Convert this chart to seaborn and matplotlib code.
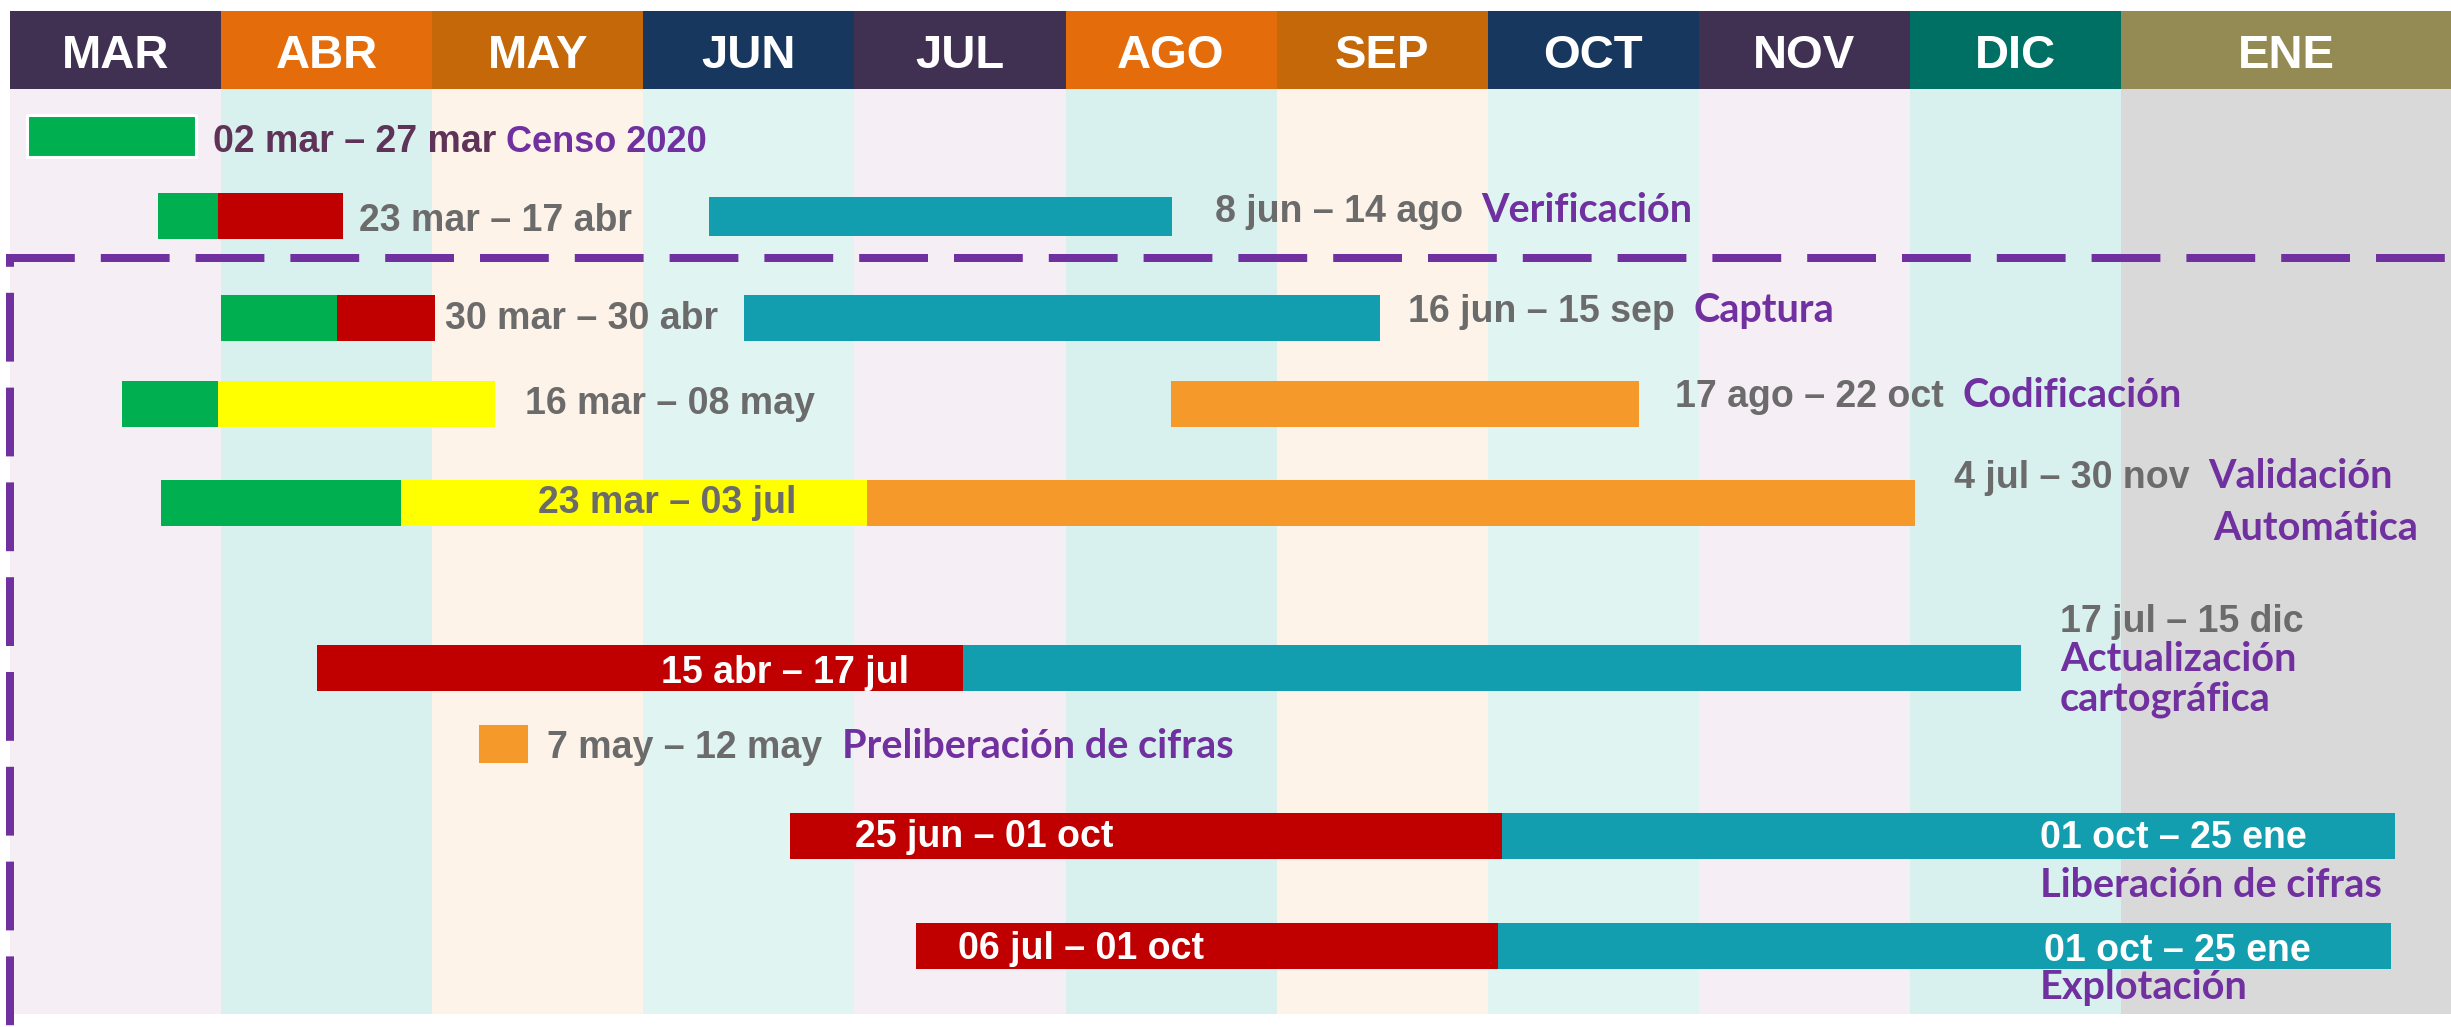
import matplotlib
matplotlib.use("Agg")
import matplotlib.pyplot as plt
import seaborn as sns

# ---------------- data ----------------
meses = ["MAR", "ABR", "MAY", "JUN", "JUL", "AGO", "SEP", "OCT", "NOV", "DIC", "ENE"]

# bar segments per row, in months counted from 1 march
seg_fila = [0, 1, 1, 1, 2, 2, 2, 3, 3, 3, 4, 4, 4, 5, 5, 6, 7, 7, 8, 8]
seg_inicio = [0.08, 0.70, 0.985, 3.31, 1.00, 1.55, 3.475, 0.53, 0.985, 5.50,
              0.715, 1.85, 4.06, 1.455, 4.515, 2.22, 3.695, 7.07, 4.29, 7.05]
seg_fin = [0.88, 0.985, 1.577, 5.505, 1.55, 2.014, 6.49, 0.985, 2.297, 7.717,
           1.85, 4.06, 9.024, 4.515, 9.526, 2.453, 7.07, 11.30, 7.05, 11.28]
seg_tipo = ["g", "g", "r", "t", "g", "r", "t", "g", "y", "o",
            "g", "y", "o", "r", "t", "o", "r", "t", "r", "t"]

fechas = ["02 mar – 27 mar", "23 mar – 17 abr", "8 jun – 14 ago", "30 mar – 30 abr",
          "16 jun – 15 sep", "16 mar – 08 may", "17 ago – 22 oct", "23 mar – 03 jul",
          "4 jul – 30 nov", "15 abr – 17 jul", "17 jul – 15 dic", "7 may – 12 may",
          "25 jun – 01 oct", "01 oct – 25 ene", "06 jul – 01 oct", "01 oct – 25 ene"]
etapas = ["Censo 2020", "Verificación", "Captura", "Codificación", "Validación",
          "Automática", "Actualización", "cartográfica", "Preliberación de cifras",
          "Liberación de cifras", "Explotación"]

# ---------------- layout / style ----------------
W, H = 2451, 1027
X0, MW = 10, 211.1          # pixel of 1 march, pixels per month
def px(x):
    return (x - X0) / MW

fila_y = [136, 216, 318, 404, 503, 668, 744, 836, 946]
alto = [42, 46, 46, 46, 46, 46, 38, 46, 46]

col_barra = {"g": "#00B050", "r": "#C00000", "t": "#129EAF", "y": "#FFFF00", "o": "#F5992A"}
col_head = ["#403152", "#E46C0A", "#C4680A", "#17375E", "#403152", "#E46C0A",
            "#C4680A", "#17375E", "#403152", "#007064", "#948A54"]
col_body = ["#F5EEF4", "#D9F1EE", "#FDF3E8", "#E0F4F2", "#F5EEF4", "#D9F1EE",
            "#FDF3E8", "#E0F4F2", "#F5EEF4", "#D9F1EE", "#D9D9D9"]
GRIS, PURP, BLANCO, CIRUELA = "#6B6B6B", "#7030A0", "white", "#5F3257"

# (x px, baseline px, colour) for each date text
fechas_pos = [(213, 152, CIRUELA), (359, 231, GRIS), (1215, 222, GRIS), (445, 329, GRIS),
              (1408, 322, GRIS), (525, 414, GRIS), (1675, 407, GRIS), (538, 513, GRIS),
              (1954, 488, GRIS), (661, 683, BLANCO), (2060, 632, GRIS), (547, 758, GRIS),
              (855, 847, BLANCO), (2040, 848, BLANCO), (958, 959, BLANCO), (2044, 961, BLANCO)]
etapas_pos = [(506, 152), (1481, 222), (1693, 322), (1962, 407), (2208, 488), (2213, 540),
              (2060, 671), (2060, 711), (842, 758), (2040, 897), (2040, 999)]

sns.set_theme(style="white")
plt.rcParams["font.family"] = ["Liberation Sans", "DejaVu Sans"]

fig = plt.figure(figsize=(W / 100, H / 100), dpi=100)
ax = fig.add_axes([0, 0, 1, 1])
ax.set_xlim(px(0), px(W))
ax.set_ylim(H, 0)
ax.axis("off")

n = len(meses)
anchos = [1] * (n - 1) + [2]
lefts = list(range(n))

# month columns and header
ax.bar(lefts, [1014 - 89] * n, bottom=89, width=anchos, align="edge", color=col_body, linewidth=0)
ax.bar(lefts, [89 - 11] * n, bottom=11, width=anchos, align="edge", color=col_head, linewidth=0)
for i, m in enumerate(meses):
    xc = i + 0.5 if i < n - 1 else (i + px(W)) / 2
    ax.text(xc, 68, m, color="white", fontsize=34, fontweight="bold", ha="center", va="baseline")

# gantt bars
for f, a, b, t in zip(seg_fila, seg_inicio, seg_fin, seg_tipo):
    h = alto[f]
    if f == 1 and t == "t":
        h = 39
    ec = "white" if f == 0 else "none"
    ax.barh(fila_y[f], b - a, left=a, height=h, color=col_barra[t],
            edgecolor=ec, linewidth=2.2 if f == 0 else 0, zorder=3)

for txt, (x, y, c) in zip(fechas, fechas_pos):
    ax.text(px(x), y, txt, color=c, fontsize=27, fontweight="bold", va="baseline", zorder=4)

for i, (txt, (x, y)) in enumerate(zip(etapas, etapas_pos)):
    if i == 0:
        fam, fs = ["Liberation Sans"], 26
    else:
        fam, fs = ["Lato", "DejaVu Sans"], 28.5
    ax.text(px(x), y, txt, color=PURP, fontsize=fs, fontweight="bold", va="baseline",
            family=fam, zorder=4)

# dashed frame
lw = 5.76
ax.plot([px(6), px(W + 20)], [258, 258], color=PURP, lw=lw, ls=(0, (8.6, 3.25)), zorder=5)
ax.plot([px(10), px(10)], [258, H + 10], color=PURP, lw=lw, ls=(7.5, (8.6, 3.25)), zorder=5)
ax.plot([px(16), px(W + 20)], [1030, 1030], color=PURP, lw=lw, ls=(0, (8.6, 3.25)), zorder=5)

fig.savefig("out.png", dpi=100)
